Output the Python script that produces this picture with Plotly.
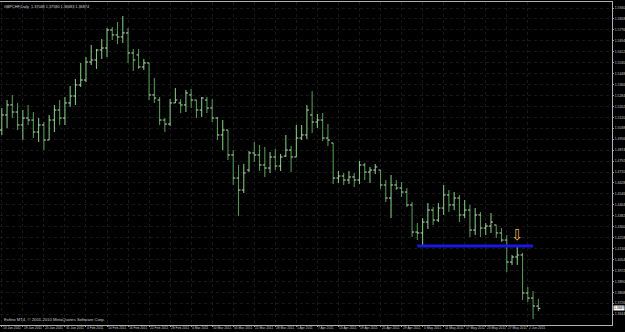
import plotly.graph_objects as go

# ---------------- data ----------------
opens = [1.5025, 1.5138, 1.5213, 1.5160, 1.5063, 1.5115, 1.5100, 1.5010, 1.5063, 1.4950,
         1.5100, 1.5175, 1.5115, 1.5228, 1.5280, 1.5363, 1.5400, 1.5535, 1.5550, 1.5625,
         1.5640, 1.5775, 1.5738, 1.5723, 1.5753, 1.5603, 1.5588, 1.5498, 1.5528, 1.5288,
         1.5250, 1.5100, 1.5070, 1.5228, 1.5228, 1.5213, 1.5288, 1.5250, 1.5175, 1.5250,
         1.5190, 1.5115, 1.4988, 1.5025, 1.4838, 1.4665, 1.4575, 1.4725, 1.4853, 1.4838,
         1.4763, 1.4740, 1.4823, 1.4755, 1.4830, 1.4875, 1.4823, 1.4965, 1.4988, 1.5138,
         1.5085, 1.5100, 1.4965, 1.4928, 1.4665, 1.4680, 1.4650, 1.4673, 1.4650, 1.4763,
         1.4710, 1.4725, 1.4725, 1.4613, 1.4515, 1.4613, 1.4590, 1.4560, 1.4463, 1.4260,
         1.4253, 1.4335, 1.4425, 1.4350, 1.4440, 1.4538, 1.4463, 1.4515, 1.4388, 1.4425,
         1.4275, 1.4388, 1.4290, 1.4305, 1.4313, 1.4253, 1.4200, 1.4035, 1.4073, 1.4088,
         1.3803, 1.3765, 1.37048]
highs = [1.5190, 1.5250, 1.5288, 1.5228, 1.5175, 1.5213, 1.5160, 1.5115, 1.5085, 1.5138,
         1.5213, 1.5250, 1.5273, 1.5355, 1.5408, 1.5528, 1.5573, 1.5663, 1.5633, 1.5708,
         1.5790, 1.5798, 1.5835, 1.5880, 1.5790, 1.5633, 1.5633, 1.5558, 1.5528, 1.5415,
         1.5273, 1.5115, 1.5258, 1.5340, 1.5258, 1.5325, 1.5333, 1.5250, 1.5273, 1.5273,
         1.5258, 1.5123, 1.5100, 1.5025, 1.4875, 1.4763, 1.4770, 1.4868, 1.4935, 1.4913,
         1.4898, 1.4860, 1.4883, 1.4845, 1.4988, 1.4905, 1.5063, 1.5063, 1.5213, 1.5318,
         1.5145, 1.5153, 1.5070, 1.4928, 1.4718, 1.4703, 1.4718, 1.4703, 1.4793, 1.4778,
         1.4748, 1.4770, 1.4725, 1.4650, 1.4688, 1.4650, 1.4635, 1.4590, 1.4485, 1.4328,
         1.4365, 1.4478, 1.4448, 1.4478, 1.4613, 1.4575, 1.4560, 1.4538, 1.4500, 1.4463,
         1.4440, 1.4410, 1.4328, 1.4403, 1.4313, 1.4290, 1.4238, 1.4088, 1.4163, 1.4103,
         1.3848, 1.3818, 1.37580]
lows = [1.4988, 1.5040, 1.5115, 1.5025, 1.4950, 1.5063, 1.4965, 1.4935, 1.4875, 1.4950,
        1.5010, 1.5063, 1.5063, 1.5198, 1.5213, 1.5348, 1.5385, 1.5513, 1.5483, 1.5558,
        1.5573, 1.5700, 1.5670, 1.5678, 1.5528, 1.5468, 1.5483, 1.5475, 1.5250, 1.5228,
        1.5063, 1.5010, 1.5055, 1.5228, 1.5153, 1.5160, 1.5190, 1.5115, 1.5123, 1.5153,
        1.5085, 1.4950, 1.4875, 1.4800, 1.4613, 1.4380, 1.4553, 1.4710, 1.4785, 1.4718,
        1.4673, 1.4703, 1.4725, 1.4718, 1.4823, 1.4710, 1.4823, 1.4950, 1.4958, 1.5003,
        1.5040, 1.4943, 1.4905, 1.4620, 1.4628, 1.4613, 1.4620, 1.4598, 1.4620, 1.4650,
        1.4628, 1.4695, 1.4583, 1.4485, 1.4365, 1.4575, 1.4523, 1.4448, 1.4223, 1.4200,
        1.4148, 1.4283, 1.4313, 1.4335, 1.4388, 1.4410, 1.4425, 1.4335, 1.4365, 1.4223,
        1.4238, 1.4223, 1.4238, 1.4253, 1.4215, 1.4185, 1.3960, 1.4013, 1.4013, 1.3750,
        1.3735, 1.3608, 1.36683]
closes = [1.5138, 1.5213, 1.5160, 1.5063, 1.5115, 1.5100, 1.5010, 1.5063, 1.4950, 1.5100,
          1.5175, 1.5115, 1.5228, 1.5280, 1.5363, 1.5400, 1.5535, 1.5550, 1.5625, 1.5640,
          1.5775, 1.5738, 1.5723, 1.5753, 1.5603, 1.5550, 1.5498, 1.5528, 1.5288, 1.5265,
          1.5100, 1.5070, 1.5228, 1.5250, 1.5213, 1.5303, 1.5250, 1.5175, 1.5265, 1.5190,
          1.5115, 1.4988, 1.5025, 1.4838, 1.4665, 1.4575, 1.4703, 1.4853, 1.4838, 1.4763,
          1.4740, 1.4823, 1.4755, 1.4823, 1.4875, 1.4823, 1.4965, 1.4988, 1.5175, 1.5085,
          1.5100, 1.4965, 1.4950, 1.4665, 1.4680, 1.4650, 1.4673, 1.4650, 1.4763, 1.4710,
          1.4725, 1.4748, 1.4613, 1.4515, 1.4613, 1.4590, 1.4560, 1.4463, 1.4260, 1.4253,
          1.4335, 1.4425, 1.4350, 1.4440, 1.4538, 1.4463, 1.4515, 1.4388, 1.4425, 1.4275,
          1.4388, 1.4290, 1.4305, 1.4335, 1.4253, 1.4200, 1.4035, 1.4073, 1.4088, 1.3803,
          1.3765, 1.3705, 1.36874]

date_tick_bars = [0, 4, 8, 12, 16, 20, 24, 28, 32, 36, 40, 44, 48, 52, 56, 60, 64, 68,
                  72, 76, 80, 84, 88, 92, 96, 100]
date_tick_labels = ["13 Jan 2011", "19 Jan 2011", "25 Jan 2011", "31 Jan 2011", "4 Feb 2011",
                    "10 Feb 2011", "16 Feb 2011", "22 Feb 2011", "28 Feb 2011", "4 Mar 2011",
                    "10 Mar 2011", "16 Mar 2011", "22 Mar 2011", "28 Mar 2011", "1 Apr 2011",
                    "7 Apr 2011", "13 Apr 2011", "19 Apr 2011", "25 Apr 2011", "29 Apr 2011",
                    "5 May 2011", "11 May 2011", "17 May 2011", "23 May 2011", "27 May 2011",
                    "2 Jun 2011"]
price_ticks = [1.5940, 1.5858, 1.5776, 1.5694, 1.5612, 1.5530, 1.5448, 1.5366, 1.5284, 1.5202,
               1.5120, 1.5038, 1.4956, 1.4874, 1.4792, 1.4710, 1.4628, 1.4546, 1.4464, 1.4382,
               1.4300, 1.4218, 1.4136, 1.4054, 1.3972, 1.3890, 1.3808, 1.3726, 1.3644, 1.3562]
price_tick_labels = ["%.4f" % v for v in price_ticks]

level_price = 1.4155
level_from_bar = 79
level_to_bar = 101
arrow_bar = 98
arrow_price = 1.4232

header = "GBPCHF,Daily  1.37048 1.37580 1.36683 1.36874"
copyright_text = "Exfino MT4, \u00a9 2001-2010 MetaQuotes Software Corp."
last_price_label = "1.3687"

# ---------------- figure ----------------
UP = "#74c874"
DOWN = "#4a9a4a"
TICK = "#cfdccf"
FONT = "Liberation Sans, Arial, sans-serif"
TXT = "#c8c8c8"

bars = list(range(len(opens)))
w = 0.38

up_x, up_y, dn_x, dn_y, tk_x, tk_y = [], [], [], [], [], []
for i, o, h, l, c in zip(bars, opens, highs, lows, closes):
    if c >= o:
        up_x += [i, i, None]; up_y += [l, h, None]
    else:
        dn_x += [i, i, None]; dn_y += [l, h, None]
    tk_x += [i - w, i, None, i, i + w, None]
    tk_y += [o, o, None, c, c, None]

fig = go.Figure()
fig.add_trace(go.Scatter(x=up_x, y=up_y, mode="lines", line=dict(color=UP, width=1.1),
                         hoverinfo="skip", showlegend=False))
fig.add_trace(go.Scatter(x=dn_x, y=dn_y, mode="lines", line=dict(color=DOWN, width=1.1),
                         hoverinfo="skip", showlegend=False))
fig.add_trace(go.Scatter(x=tk_x, y=tk_y, mode="lines", line=dict(color=TICK, width=1),
                         hoverinfo="skip", showlegend=False))
fig.add_trace(go.Scatter(x=[level_from_bar, level_to_bar], y=[level_price, level_price],
                         mode="lines", line=dict(color="#1818e0", width=3),
                         hoverinfo="skip", showlegend=False))
fig.add_trace(go.Scatter(x=[arrow_bar], y=[arrow_price], mode="text", text=["\u21e9"],
                         textfont=dict(family="DejaVu Sans", size=15, color="#e0b848"),
                         hoverinfo="skip", showlegend=False))

px_per_bar = 5.26
plot_w = 612
x0 = -1.8 / px_per_bar
x1 = x0 + plot_w / px_per_bar

annotations = [
    dict(text=header, xref="paper", yref="paper", x=0, y=1, xanchor="left",
         yanchor="top", xshift=2, yshift=-1, showarrow=False,
         font=dict(family=FONT, size=3.8, color="#d8d8d8")),
    dict(text=copyright_text, xref="paper", yref="paper", x=0, y=0, xanchor="left",
         yanchor="bottom", xshift=2, yshift=1, showarrow=False,
         font=dict(family=FONT, size=4.2, color="#d0d0d0")),
    dict(text=last_price_label, xref="paper", yref="y", x=1, y=closes[-1],
         xanchor="left", yanchor="middle", xshift=1, showarrow=False,
         bgcolor="white", borderpad=0,
         font=dict(family=FONT, size=3.4, color="black")),
]
for b, lab in zip(date_tick_bars, date_tick_labels):
    annotations.append(dict(text=lab, xref="x", yref="paper", x=b, y=0,
                            xanchor="left", yanchor="top", xshift=0, yshift=0,
                            showarrow=False, borderpad=0,
                            font=dict(family=FONT, size=3.3, color=TXT)))

fig.update_layout(
    width=625, height=332,
    margin=dict(l=0, r=13, t=2, b=7),
    paper_bgcolor="black", plot_bgcolor="black",
    showlegend=False,
    xaxis=dict(range=[x0, x1], tickmode="array", tickvals=date_tick_bars,
               showticklabels=False, ticks="outside", ticklen=1, tickcolor="#9a9a9a",
               showgrid=True, gridcolor="#181818", griddash="dot", gridwidth=1,
               zeroline=False, showline=True, linecolor="#b0b0b0", linewidth=1,
               mirror=True, automargin=False),
    yaxis=dict(range=[1.3563, 1.5985], side="right", tickmode="array",
               tickvals=price_ticks, ticktext=price_tick_labels, ticks="outside",
               ticklen=1, tickcolor="#9a9a9a",
               tickfont=dict(family=FONT, size=3.4, color=TXT),
               showgrid=True, gridcolor="#181818", griddash="dot", gridwidth=1,
               zeroline=False, showline=True, linecolor="#b0b0b0", linewidth=1,
               mirror=True, automargin=False),
    annotations=annotations,
)

fig.write_html("out.html")
